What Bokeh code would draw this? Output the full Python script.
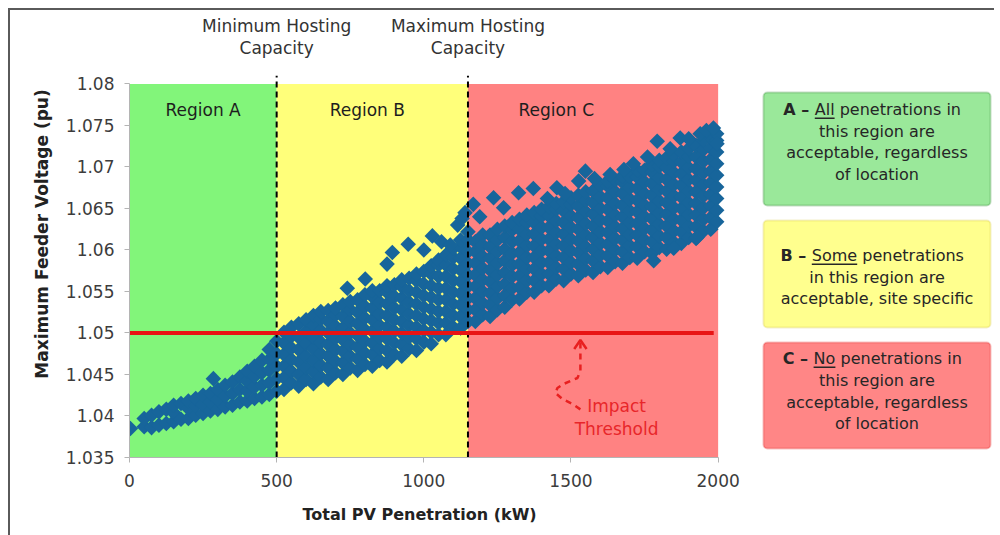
from bokeh.plotting import figure
from bokeh.models import Range1d, BoxAnnotation, Label, FixedTicker, Title
from bokeh.embed import file_html
from bokeh.resources import INLINE

# ---------------- data ----------------
x_ticks = [0, 500, 1000, 1500, 2000]
y_ticks = [1.035, 1.04, 1.045, 1.05, 1.055, 1.06, 1.065, 1.07, 1.075, 1.08]
y_tick_labels = ["1.035", "1.04", "1.045", "1.05", "1.055", "1.06", "1.065", "1.07", "1.075", "1.08"]

min_hosting_kw = 500
max_hosting_kw = 1150
threshold_pu = 1.05
threshold_end_kw = 1985

region_names = ["Region A", "Region B", "Region C"]
region_start_kw = [0, 500, 1150]
region_end_kw = [500, 1150, 2000]
region_label_kw = [250, 808, 1450]

# scatter, grouped by penetration column
region_a_kw = [50, 75, 100, 125, 150, 175, 200, 225, 250, 275, 300, 325, 350, 375, 400, 425, 450, 475, 500]
region_a_pu = [
    [1.0387, 1.0397],
    [1.0386, 1.0401],
    [1.0389, 1.0405],
    [1.0391, 1.0408],
    [1.0393, 1.0404, 1.0413],
    [1.0396, 1.0415],
    [1.0397, 1.0409, 1.0418],
    [1.0401, 1.0412, 1.0421],
    [1.0403, 1.0414, 1.0425],
    [1.0406, 1.0417, 1.0427],
    [1.0408, 1.0420, 1.0432],
    [1.0411, 1.0424, 1.0437],
    [1.0413, 1.0427, 1.0441],
    [1.0417, 1.0432, 1.0447],
    [1.0418, 1.0430, 1.0442, 1.0454],
    [1.0421, 1.0435, 1.0448, 1.0460],
    [1.0423, 1.0437, 1.0452, 1.0467],
    [1.0426, 1.0440, 1.0455, 1.0468, 1.0480],
    [1.0430, 1.0445, 1.0460, 1.0475, 1.0490],
]

region_b_kw = [525, 550, 575, 600, 625, 650, 675, 700, 725, 750, 775, 800, 825,
               850, 875, 900, 925, 950, 975, 1000, 1025, 1050, 1075, 1100, 1125, 1150]
region_b_pu = [
    [1.0432, 1.0446, 1.0460, 1.0474, 1.0488, 1.0501],
    [1.0440, 1.0454, 1.0468, 1.0482, 1.0496, 1.0507],
    [1.0436, 1.0450, 1.0465, 1.0480, 1.0495, 1.0511],
    [1.0444, 1.0458, 1.0472, 1.0487, 1.0502, 1.0516],
    [1.0439, 1.0453, 1.0467, 1.0481, 1.0495, 1.0509, 1.0521],
    [1.0447, 1.0461, 1.0475, 1.0489, 1.0503, 1.0517, 1.0526],
    [1.0444, 1.0458, 1.0472, 1.0486, 1.0500, 1.0514, 1.0527],
    [1.0452, 1.0466, 1.0480, 1.0494, 1.0508, 1.0522, 1.0530],
    [1.0450, 1.0464, 1.0478, 1.0492, 1.0506, 1.0520, 1.0534],
    [1.0458, 1.0472, 1.0486, 1.0500, 1.0514, 1.0528, 1.0538],
    [1.0455, 1.0469, 1.0483, 1.0497, 1.0511, 1.0525, 1.0540],
    [1.0462, 1.0476, 1.0490, 1.0504, 1.0518, 1.0532, 1.0546],
    [1.0460, 1.0474, 1.0488, 1.0502, 1.0516, 1.0530, 1.0544, 1.0551],
    [1.0467, 1.0481, 1.0495, 1.0509, 1.0523, 1.0537, 1.0551],
    [1.0465, 1.0479, 1.0493, 1.0507, 1.0521, 1.0535, 1.0549, 1.0557],
    [1.0474, 1.0488, 1.0502, 1.0516, 1.0530, 1.0544, 1.0558],
    [1.0472, 1.0486, 1.0500, 1.0514, 1.0528, 1.0542, 1.0556, 1.0564],
    [1.0481, 1.0495, 1.0509, 1.0523, 1.0537, 1.0551, 1.0566],
    [1.0479, 1.0493, 1.0507, 1.0521, 1.0535, 1.0549, 1.0563, 1.0571],
    [1.0489, 1.0503, 1.0517, 1.0531, 1.0545, 1.0559, 1.0574],
    [1.0487, 1.0501, 1.0515, 1.0529, 1.0543, 1.0557, 1.0571, 1.0581],
    [1.0498, 1.0512, 1.0526, 1.0540, 1.0554, 1.0568, 1.0582, 1.0588],
    [1.0498, 1.0512, 1.0526, 1.0540, 1.0554, 1.0568, 1.0582, 1.0594],
    [1.0507, 1.0521, 1.0535, 1.0549, 1.0563, 1.0577, 1.0591, 1.0602],
    [1.0506, 1.0520, 1.0534, 1.0548, 1.0562, 1.0576, 1.0590, 1.0604, 1.0612],
    [1.0514, 1.0528, 1.0542, 1.0556, 1.0570, 1.0584, 1.0598, 1.0612, 1.0622],
]

region_c_kw = [1175, 1200, 1225, 1250, 1275, 1300, 1325, 1350, 1375, 1400, 1425, 1450,
               1475, 1500, 1525, 1550, 1575, 1600, 1625, 1650, 1675, 1700, 1725, 1750,
               1775, 1800, 1825, 1850, 1875, 1900, 1925, 1950, 1975, 1995]
region_c_pu = [
    [1.0514, 1.0528, 1.0542, 1.0556, 1.0570, 1.0584, 1.0598, 1.0610],
    [1.0522, 1.0536, 1.0550, 1.0564, 1.0578, 1.0592, 1.0606, 1.0618],
    [1.0520, 1.0534, 1.0548, 1.0562, 1.0576, 1.0590, 1.0604, 1.0618],
    [1.0528, 1.0542, 1.0556, 1.0570, 1.0584, 1.0598, 1.0612, 1.0625],
    [1.0531, 1.0545, 1.0559, 1.0573, 1.0587, 1.0601, 1.0615, 1.0629],
    [1.0540, 1.0554, 1.0568, 1.0582, 1.0596, 1.0610, 1.0624, 1.0633],
    [1.0541, 1.0555, 1.0569, 1.0583, 1.0597, 1.0611, 1.0625, 1.0637],
    [1.0549, 1.0563, 1.0577, 1.0591, 1.0605, 1.0619, 1.0633, 1.0642],
    [1.0549, 1.0563, 1.0577, 1.0591, 1.0605, 1.0619, 1.0633, 1.0645],
    [1.0557, 1.0571, 1.0585, 1.0599, 1.0613, 1.0627, 1.0641, 1.0649],
    [1.0557, 1.0571, 1.0585, 1.0599, 1.0613, 1.0627, 1.0641, 1.0652],
    [1.0565, 1.0579, 1.0593, 1.0607, 1.0621, 1.0635, 1.0649, 1.0656],
    [1.0563, 1.0577, 1.0591, 1.0605, 1.0619, 1.0633, 1.0647, 1.0658],
    [1.0571, 1.0585, 1.0599, 1.0613, 1.0627, 1.0641, 1.0655, 1.0663],
    [1.0569, 1.0583, 1.0597, 1.0611, 1.0625, 1.0639, 1.0653, 1.0666],
    [1.0576, 1.0590, 1.0604, 1.0618, 1.0632, 1.0646, 1.0660, 1.0670],
    [1.0573, 1.0587, 1.0601, 1.0615, 1.0629, 1.0643, 1.0657, 1.0671],
    [1.0580, 1.0594, 1.0608, 1.0622, 1.0636, 1.0650, 1.0664, 1.0678],
    [1.0579, 1.0593, 1.0607, 1.0621, 1.0635, 1.0649, 1.0663, 1.0677, 1.0683],
    [1.0586, 1.0600, 1.0614, 1.0628, 1.0642, 1.0656, 1.0670, 1.0684],
    [1.0584, 1.0598, 1.0612, 1.0626, 1.0640, 1.0654, 1.0668, 1.0682, 1.0689],
    [1.0591, 1.0605, 1.0619, 1.0633, 1.0647, 1.0661, 1.0675, 1.0689],
    [1.0590, 1.0604, 1.0618, 1.0632, 1.0646, 1.0660, 1.0674, 1.0688, 1.0696],
    [1.0598, 1.0612, 1.0626, 1.0640, 1.0654, 1.0668, 1.0682, 1.0696],
    [1.0596, 1.0610, 1.0624, 1.0638, 1.0652, 1.0666, 1.0680, 1.0694, 1.0703],
    [1.0603, 1.0617, 1.0631, 1.0645, 1.0659, 1.0673, 1.0687, 1.0701, 1.0708],
    [1.0601, 1.0615, 1.0629, 1.0643, 1.0657, 1.0671, 1.0685, 1.0699, 1.0711],
    [1.0609, 1.0623, 1.0637, 1.0651, 1.0665, 1.0679, 1.0693, 1.0707, 1.0715],
    [1.0608, 1.0622, 1.0636, 1.0650, 1.0664, 1.0678, 1.0692, 1.0706, 1.0718],
    [1.0615, 1.0629, 1.0643, 1.0657, 1.0671, 1.0685, 1.0699, 1.0713, 1.0722],
    [1.0614, 1.0628, 1.0642, 1.0656, 1.0670, 1.0684, 1.0698, 1.0712, 1.0726],
    [1.0623, 1.0637, 1.0651, 1.0665, 1.0679, 1.0693, 1.0707, 1.0721, 1.0732],
    [1.0625, 1.0639, 1.0653, 1.0667, 1.0681, 1.0695, 1.0709, 1.0723, 1.0736],
    [1.0634, 1.0648, 1.0662, 1.0676, 1.0690, 1.0704, 1.0718, 1.0732, 1.0740],
]

outlier_kw = [3, 285, 740, 801, 875, 893, 947, 1000, 1029, 1060, 1090, 1115, 1130, 1140,
              1168, 1190, 1237, 1271, 1322, 1372, 1420, 1452, 1480, 1526, 1549, 1580,
              1633, 1680, 1712, 1760, 1793, 1837, 1871, 1900, 1939, 1960, 1984, 1996,
              1781, 1849, 1928]
outlier_pu = [1.0385, 1.0445, 1.0554, 1.0565, 1.0583, 1.0597, 1.0607, 1.0600, 1.0617,
              1.0610, 1.0606, 1.0630, 1.0638, 1.0645, 1.0655, 1.0640, 1.0663, 1.0651,
              1.0669, 1.0674, 1.0662, 1.0675, 1.0668, 1.0683, 1.0695, 1.0686, 1.0691,
              1.0697, 1.0704, 1.0712, 1.0731, 1.0722, 1.0735, 1.0734, 1.0740, 1.0744,
              1.0747, 1.0728, 1.0587, 1.0602, 1.0615]

box_a_lines = ["this region are", "acceptable, regardless", "of location"]
box_b_lines = ["in this region are", "acceptable, site specific"]
box_c_lines = ["this region are", "acceptable, regardless", "of location"]

# ---------------- build point table ----------------
pv_kw, feeder_pu = [], []
for kws, cols in ((region_a_kw, region_a_pu), (region_b_kw, region_b_pu), (region_c_kw, region_c_pu)):
    for k, col in zip(kws, cols):
        pv_kw.extend([k] * len(col))
        feeder_pu.extend(col)
pv_kw.extend(outlier_kw)
feeder_pu.extend(outlier_pu)

# ---------------- figure ----------------
FONT = "DejaVu Sans"
FL, FB = 119, 447  # frame left / bottom in canvas px (frame spans to top and right canvas edges)


def sx(cx):
    return cx - FL


def sy(cy):
    return FB - cy


p = figure(width=984, height=525, output_backend="svg", toolbar_location=None,
           x_range=Range1d(0, 2939), y_range=Range1d(1.035, 1.088855),
           min_border_left=FL, min_border_right=0, min_border_top=0, min_border_bottom=78,
           frame_width=865, frame_height=447,
           background_fill_color="white", border_fill_color="white")
p.styles = {"margin-left": "8px", "margin-top": "8px",
            "border-top": "2px solid #5a5a5a", "border-left": "2px solid #5a5a5a"}
p.outline_line_color = None
p.grid.visible = False

p.quad(left=region_start_kw, right=region_end_kw, bottom=y_ticks[0], top=y_ticks[-1],
       fill_color=["#82f57a", "#ffff7a", "#ff8282"], line_color=None)

p.scatter(pv_kw, feeder_pu, marker="square", size=11, angle=45, angle_units="deg",
          fill_color="#17659b", line_color=None)

p.segment(x0=[min_hosting_kw, max_hosting_kw], y0=y_ticks[0],
          x1=[min_hosting_kw, max_hosting_kw], y1=1.081,
          line_color="black", line_width=2, line_dash="6 4")

p.segment(x0=x_ticks[0], y0=threshold_pu, x1=threshold_end_kw, y1=threshold_pu,
          line_color="#e81414", line_width=4)

# impact-threshold arrow
p.line([1532, 1505, 1471, 1447, 1454, 1475, 1522, 1532, 1532],
       [1.0408, 1.04145, 1.04205, 1.04277, 1.04337, 1.04386, 1.04458, 1.04542, 1.0490],
       line_color="#e82020", line_width=2.5, line_dash="6 5")
p.line([1511, 1532, 1553], [1.04807, 1.04916, 1.04807], line_color="#e82020", line_width=2.5)

# axes
for ax in (p.xaxis[0], p.yaxis[0]):
    ax.axis_line_color = "#b4b4b4"
    ax.major_tick_line_color = "#b4b4b4"
    ax.minor_tick_line_color = None
    ax.major_tick_out = 5
    ax.major_tick_in = 0
    ax.major_label_text_font = FONT
    ax.major_label_text_font_size = "17px"
    ax.major_label_text_color = "#3c3c3c"
    ax.axis_label_text_font = FONT
    ax.axis_label_text_font_style = "bold"
    ax.axis_label_text_color = "#222222"

p.xaxis.ticker = FixedTicker(ticks=x_ticks)
p.xaxis.bounds = (x_ticks[0], x_ticks[-1])
p.xaxis.major_label_standoff = 11

# x-axis title centred under the 0..2000 axis (not the wider frame)
p.add_layout(Title(text="Total PV Penetration (kW)", align="left", offset=173, standoff=26,
                   text_font=FONT, text_font_size="16px", text_font_style="bold",
                   text_color="#222222"), "below")

p.yaxis.ticker = FixedTicker(ticks=y_ticks)
p.yaxis.bounds = (y_ticks[0], y_ticks[-1])
p.yaxis.major_label_overrides = {t: s for t, s in zip(y_ticks, y_tick_labels)}
p.yaxis.axis_label = "Maximum Feeder Voltage (pu)"
p.yaxis.axis_label_text_font_size = "17px"
p.yaxis.major_label_standoff = 10
p.yaxis.axis_label_standoff = 11

# region labels
for name, kx in zip(region_names, region_label_kw):
    p.add_layout(Label(x=kx, y=1.0769, text=name, text_align="center", text_baseline="middle",
                       text_font=FONT, text_font_size="17px", text_color="#1e1e1e"))

# hosting capacity labels
for kx, first in ((min_hosting_kw, "Minimum Hosting"), (max_hosting_kw, "Maximum Hosting")):
    for txt, cy in ((first, 15), ("Capacity", 37)):
        p.add_layout(Label(x=kx, y=sy(cy), y_units="screen", text=txt, text_align="center",
                           text_baseline="middle", text_font=FONT, text_font_size="17px",
                           text_color="#333333"))

# impact threshold text
for txt, yy in (("Impact", 1.0412), ("Threshold", 1.0384)):
    p.add_layout(Label(x=1655, y=yy, text=txt, text_align="center", text_baseline="middle",
                       text_font=FONT, text_font_size="17px", text_color="#e8262a"))

# explanation boxes
boxes = [
    (82, 195, "#9ae89a", "#3f8f3f"),
    (210, 317, "#ffff8e", "#d8c850"),
    (332, 438, "#ff8686", "#e03434"),
]
for top, bot, fill, edge in boxes:
    p.add_layout(BoxAnnotation(left=sx(753), right=sx(980), top=sy(top), bottom=sy(bot),
                               left_units="screen", right_units="screen",
                               top_units="screen", bottom_units="screen",
                               fill_color=fill, fill_alpha=1, line_color=edge, line_width=2,
                               border_radius=4, level="overlay"))


def box_text(txt, cx, cy, align="center", bold=False):
    p.add_layout(Label(x=sx(cx), y=sy(cy), x_units="screen", y_units="screen", text=txt,
                       text_align=align, text_baseline="middle", text_font=FONT,
                       text_font_size="16px", text_color="#262626",
                       text_font_style="bold" if bold else "normal", level="overlay"))


def underline(x0, x1, cy):
    p.add_layout(BoxAnnotation(left=sx(x0), right=sx(x1), top=sy(cy - 0.7), bottom=sy(cy + 0.7),
                               left_units="screen", right_units="screen",
                               top_units="screen", bottom_units="screen",
                               fill_color="#262626", fill_alpha=1, line_color=None, level="overlay"))


CX = 866.5
# box A
box_text("A \u2013", 772.8, 99, "left", True)
box_text("All", 804.3, 99, "left")
underline(804.3, 824.1, 107.7)
box_text("penetrations in", 829.2, 99, "left")
for txt, cy in zip(box_a_lines, (120.5, 142, 163.5)):
    box_text(txt, CX, cy)
# box B
box_text("B \u2013", 770, 245, "left", True)
box_text("Some", 801.3, 245, "left")
underline(801.3, 846.7, 253.7)
box_text("penetrations", 851.8, 245, "left")
for txt, cy in zip(box_b_lines, (267, 288)):
    box_text(txt, CX, cy)
# box C
box_text("C \u2013", 772.2, 348, "left", True)
box_text("No", 803.1, 348, "left")
underline(803.1, 824.9, 356.7)
box_text("penetrations in", 830, 348, "left")
for txt, cy in zip(box_c_lines, (370, 392, 413)):
    box_text(txt, CX, cy)

open("out.html", "w").write(file_html(p, INLINE))
